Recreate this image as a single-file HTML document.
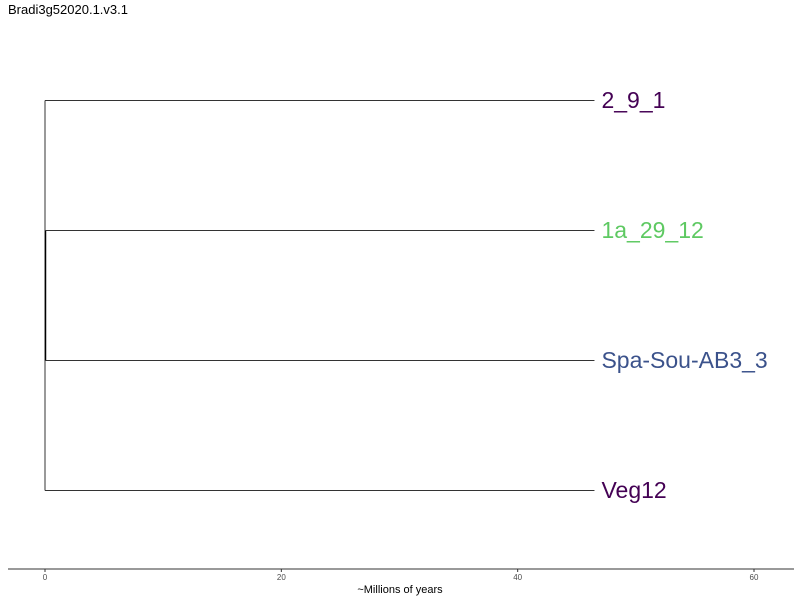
<!DOCTYPE html>
<html><head><meta charset="utf-8"><style>
body{margin:0;background:#fff;}
svg{display:block;font-family:"Liberation Sans",sans-serif;}
</style></head><body>
<svg id="chart" width="800" height="600">
<text x="8" y="14" font-size="13" fill="#000">Bradi3g52020.1.v3.1</text>
<g id="tree"></g>
<g id="axis">
<line x1="8" x2="794" y1="569" y2="569" stroke="#333" stroke-width="1"/>
</g>
<text x="400" y="593" font-size="11" text-anchor="middle" fill="#000">~Millions of years</text>
</svg>
<script>
const tipLabels = ["2_9_1","1a_29_12","Spa-Sou-AB3_3","Veg12"];
const tipColors = ["#440154","#5ec962","#3b528b","#440154"];
const tipDepths = [46.5,46.5,46.5,46.5];
const innerNodeDepth = [0.05];
const ticks = [0,20,40,60];
const ns="http://www.w3.org/2000/svg";
const x=v=>45+v*(754-45)/60;
const y=i=>100+i*130;
const tree=document.getElementById('tree'), axis=document.getElementById('axis');
function line(p,x1,y1,x2,y2,c,w,name){const l=document.createElementNS(ns,'line');
l.setAttribute('x1',x1);l.setAttribute('y1',y1);l.setAttribute('x2',x2);l.setAttribute('y2',y2);
l.setAttribute('stroke',c);l.setAttribute('stroke-width',w);


p.appendChild(l);}
line(tree,x(0),y(0)+0.5,x(0),y(3)+0.5,"#333",1,'root-vertical');
line(tree,x(innerNodeDepth[0]),y(1)+0.5,x(innerNodeDepth[0]),y(2)+0.5,"#000",1.3,'inner-vertical');
tipLabels.forEach((t,i)=>{
 const start=(i===1||i===2)?x(innerNodeDepth[0]):x(0);
 line(tree,start,y(i)+0.5,x(tipDepths[i]),y(i)+0.5,"#333",1,'branch-'+t);
 const tx=document.createElementNS(ns,'text');
 tx.setAttribute('x',x(tipDepths[i])+7);tx.setAttribute('y',y(i)+8);
 tx.setAttribute('font-size','23');tx.setAttribute('fill',tipColors[i]);
 tx.textContent=t;
 
 
 tree.appendChild(tx);
});
ticks.forEach(v=>{
 line(axis,x(v),569,x(v),572,"#333",1,'x-tick');
 const tx=document.createElementNS(ns,'text');
 tx.setAttribute('x',x(v));tx.setAttribute('y',580);tx.setAttribute('font-size','8');
 tx.setAttribute('text-anchor','middle');tx.setAttribute('fill','#4d4d4d');
 tx.textContent=v;
 
 
 axis.appendChild(tx);
});
</script>
</body></html>
